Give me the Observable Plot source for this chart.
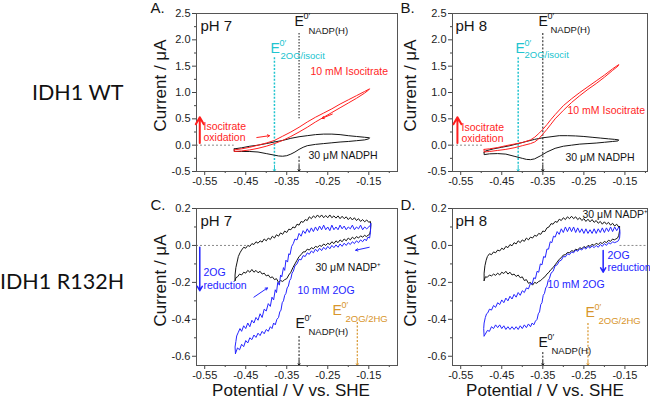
<!DOCTYPE html>
<html><head><meta charset="utf-8">
<script src="https://cdn.jsdelivr.net/npm/d3@7"></script>
<script src="https://cdn.jsdelivr.net/npm/@observablehq/plot@0.6"></script>
<style>
body{margin:0;background:#fff;}
#wrap{position:relative;width:650px;height:401px;overflow:hidden;background:#fff;}
.panel{position:absolute;}
.row{position:absolute;font-family:"Lato","Open Sans",sans-serif;font-size:21.5px;color:#111;white-space:nowrap;line-height:1;}
</style></head>
<body><div id="wrap">
<div class="row" style="left:32px;top:82px;">IDH1 WT</div>
<div class="row" style="left:0px;top:271px;">IDH1 R132H</div>
</div>
<script>
// ---------- tick values ----------
const xTicks = [-0.55, -0.45, -0.35, -0.25, -0.15];
const xMinor = [-0.5, -0.4, -0.3, -0.2, -0.1];
const yTicksWT = [-0.5, 0, 0.5, 1, 1.5, 2, 2.5];
const yMinorWT = [-0.25, 0.25, 0.75, 1.25, 1.75, 2.25];
const yTicksMut = [-0.6, -0.4, -0.2, 0, 0.2];
const yMinorMut = [-0.5, -0.3, -0.1, 0.1];

// ---------- formal potentials (V vs SHE) ----------
const E0_pH7 = {NADP: -0.32, isocit: -0.38, hg: -0.178};
const E0_pH8 = {NADP: -0.35, isocit: -0.41, hg: -0.24};

// ---------- A: IDH1 WT pH 7 ----------
const A_isocitrate = [[-0.478,-0.09],[-0.46,-0.07],[-0.44,-0.04],[-0.42,0.0],[-0.40,0.04],[-0.38,0.09],[-0.36,0.17],[-0.34,0.25],[-0.32,0.34],[-0.30,0.44],[-0.28,0.53],[-0.26,0.61],[-0.24,0.69],[-0.22,0.78],[-0.20,0.86],[-0.18,0.94],[-0.16,1.02],[-0.148,1.07],
 [-0.15,1.05],[-0.16,0.99],[-0.18,0.89],[-0.20,0.80],[-0.22,0.71],[-0.24,0.62],[-0.26,0.53],[-0.28,0.44],[-0.30,0.34],[-0.32,0.25],[-0.34,0.165],[-0.36,0.09],[-0.38,0.03],[-0.40,-0.02],[-0.42,-0.06],[-0.44,-0.09],[-0.46,-0.11],[-0.478,-0.12],[-0.478,-0.09]];
const A_NADPH = [[-0.478,-0.07],[-0.46,-0.05],[-0.44,-0.02],[-0.42,0.0],[-0.40,0.03],[-0.38,0.06],[-0.36,0.09],[-0.34,0.13],[-0.32,0.16],[-0.30,0.18],[-0.28,0.2],[-0.26,0.21],[-0.24,0.21],[-0.22,0.2],[-0.20,0.18],[-0.18,0.165],[-0.16,0.15],[-0.148,0.14],
 [-0.15,0.12],[-0.16,0.10],[-0.18,0.085],[-0.20,0.07],[-0.22,0.06],[-0.24,0.045],[-0.26,0.03],[-0.28,0.015],[-0.30,-0.01],[-0.31,-0.04],[-0.32,-0.08],[-0.33,-0.13],[-0.34,-0.17],[-0.35,-0.2],[-0.36,-0.21],[-0.37,-0.205],[-0.38,-0.19],[-0.40,-0.16],[-0.42,-0.13],[-0.44,-0.12],[-0.46,-0.12],[-0.478,-0.12],[-0.478,-0.07]];

// ---------- B: IDH1 WT pH 8 ----------
const B_isocitrate = [[-0.493,-0.08],[-0.48,-0.07],[-0.46,-0.045],[-0.44,-0.01],[-0.42,0.02],[-0.40,0.05],[-0.38,0.1],[-0.37,0.15],[-0.36,0.22],[-0.35,0.3],[-0.34,0.39],[-0.33,0.49],[-0.32,0.58],[-0.30,0.75],[-0.28,0.88],[-0.26,1.0],[-0.24,1.11],[-0.22,1.22],[-0.20,1.33],[-0.18,1.45],[-0.165,1.53],
 [-0.167,1.5],[-0.18,1.42],[-0.20,1.29],[-0.22,1.17],[-0.24,1.06],[-0.26,0.94],[-0.28,0.81],[-0.30,0.66],[-0.32,0.5],[-0.33,0.4],[-0.34,0.3],[-0.35,0.21],[-0.36,0.12],[-0.37,0.06],[-0.38,0.03],[-0.40,-0.01],[-0.42,-0.05],[-0.44,-0.08],[-0.46,-0.1],[-0.48,-0.12],[-0.493,-0.13],[-0.493,-0.08]];
const B_NADPH = [[-0.493,-0.14],[-0.49,-0.11],[-0.47,-0.07],[-0.45,-0.04],[-0.43,-0.01],[-0.41,0.03],[-0.39,0.07],[-0.37,0.11],[-0.35,0.14],[-0.33,0.16],[-0.31,0.18],[-0.29,0.18],[-0.27,0.175],[-0.25,0.165],[-0.23,0.15],[-0.21,0.135],[-0.19,0.12],[-0.175,0.11],[-0.165,0.10],
 [-0.167,0.08],[-0.18,0.07],[-0.20,0.055],[-0.22,0.04],[-0.24,0.03],[-0.26,0.02],[-0.28,0.0],[-0.30,-0.02],[-0.32,-0.06],[-0.34,-0.13],[-0.355,-0.2],[-0.37,-0.26],[-0.38,-0.275],[-0.39,-0.27],[-0.40,-0.25],[-0.42,-0.21],[-0.44,-0.17],[-0.46,-0.16],[-0.48,-0.165],[-0.493,-0.18],[-0.493,-0.14]];

// ---------- C: IDH1 R132H pH 7 ----------
const C_2OG = [[-0.475,-0.585],[-0.476,-0.55],[-0.474,-0.52],[-0.472,-0.49],[-0.468,-0.47],[-0.464,-0.45],[-0.46,-0.465],[-0.455,-0.435],[-0.45,-0.45],[-0.445,-0.42],[-0.44,-0.44],[-0.435,-0.405],[-0.43,-0.42],[-0.425,-0.39],[-0.42,-0.405],[-0.415,-0.37],[-0.41,-0.39],[-0.405,-0.345],[-0.40,-0.355],[-0.395,-0.315],[-0.39,-0.33],[-0.386,-0.28],[-0.382,-0.295],[-0.378,-0.24],[-0.375,-0.255],[-0.372,-0.2],[-0.368,-0.215],[-0.365,-0.16],[-0.362,-0.17],[-0.358,-0.12],[-0.355,-0.135],[-0.352,-0.08],[-0.348,-0.09],[-0.345,-0.045],[-0.342,-0.05],[-0.338,-0.005],[-0.334,0.01],[-0.33,0.035],[-0.325,0.03],[-0.32,0.065],[-0.315,0.05],[-0.31,0.08],[-0.305,0.065],[-0.30,0.09],[-0.295,0.07],[-0.29,0.095],[-0.285,0.075],[-0.28,0.1],[-0.275,0.08],[-0.27,0.105],[-0.265,0.085],[-0.26,0.11],[-0.255,0.085],[-0.25,0.1],[-0.245,0.08],[-0.24,0.11],[-0.235,0.085],[-0.23,0.1],[-0.225,0.085],[-0.22,0.11],[-0.215,0.09],[-0.21,0.105],[-0.205,0.085],[-0.20,0.1],[-0.195,0.09],[-0.19,0.11],[-0.185,0.085],[-0.18,0.1],[-0.175,0.09],[-0.17,0.11],[-0.165,0.085],[-0.16,0.1],[-0.155,0.09],[-0.15,0.1],[-0.146,0.11],
 [-0.145,0.12],[-0.146,0.07],[-0.148,0.04],[-0.152,0.045],[-0.156,0.025],[-0.16,0.035],[-0.165,0.02],[-0.17,0.03],[-0.175,0.015],[-0.18,0.025],[-0.185,0.01],[-0.19,0.02],[-0.195,0.005],[-0.20,0.015],[-0.205,0.0],[-0.21,0.012],[-0.215,-0.005],[-0.22,0.008],[-0.225,-0.01],[-0.23,0.003],[-0.235,-0.012],[-0.24,0.0],[-0.245,-0.018],[-0.25,-0.005],[-0.255,-0.022],[-0.26,-0.01],[-0.265,-0.028],[-0.27,-0.015],[-0.275,-0.033],[-0.28,-0.02],[-0.285,-0.04],[-0.29,-0.03],[-0.295,-0.048],[-0.30,-0.04],[-0.305,-0.06],[-0.31,-0.055],[-0.315,-0.078],[-0.32,-0.075],[-0.325,-0.1],[-0.33,-0.11],[-0.334,-0.14],[-0.337,-0.15],[-0.34,-0.18],[-0.343,-0.19],[-0.346,-0.22],[-0.349,-0.23],[-0.352,-0.26],[-0.355,-0.27],[-0.358,-0.3],[-0.361,-0.31],[-0.364,-0.35],[-0.367,-0.36],[-0.37,-0.39],[-0.374,-0.4],[-0.378,-0.43],[-0.382,-0.42],[-0.386,-0.45],[-0.39,-0.44],[-0.395,-0.465],[-0.40,-0.455],[-0.405,-0.478],[-0.41,-0.465],[-0.415,-0.488],[-0.42,-0.475],[-0.425,-0.498],[-0.43,-0.485],[-0.435,-0.51],[-0.44,-0.5],[-0.445,-0.528],[-0.45,-0.515],[-0.455,-0.548],[-0.46,-0.535],[-0.465,-0.565],[-0.47,-0.555],[-0.475,-0.585]];
const C_NADP = [[-0.476,-0.19],[-0.476,-0.16],[-0.474,-0.12],[-0.471,-0.09],[-0.468,-0.06],[-0.464,-0.04],[-0.46,-0.025],[-0.455,-0.01],[-0.45,-0.015],[-0.445,0.0],[-0.44,-0.005],[-0.435,0.01],[-0.43,0.005],[-0.425,0.02],[-0.42,0.012],[-0.415,0.025],[-0.41,0.018],[-0.405,0.035],[-0.40,0.025],[-0.395,0.04],[-0.39,0.032],[-0.385,0.05],[-0.38,0.04],[-0.375,0.058],[-0.37,0.05],[-0.365,0.068],[-0.36,0.06],[-0.355,0.078],[-0.35,0.07],[-0.345,0.088],[-0.34,0.085],[-0.335,0.1],[-0.33,0.095],[-0.325,0.115],[-0.32,0.11],[-0.315,0.13],[-0.31,0.125],[-0.305,0.14],[-0.30,0.135],[-0.295,0.155],[-0.29,0.145],[-0.285,0.16],[-0.28,0.15],[-0.275,0.165],[-0.27,0.152],[-0.265,0.165],[-0.26,0.15],[-0.255,0.162],[-0.25,0.15],[-0.245,0.165],[-0.24,0.15],[-0.235,0.16],[-0.23,0.148],[-0.225,0.16],[-0.22,0.145],[-0.215,0.158],[-0.21,0.145],[-0.205,0.155],[-0.20,0.14],[-0.195,0.152],[-0.19,0.138],[-0.185,0.15],[-0.18,0.135],[-0.175,0.145],[-0.17,0.13],[-0.165,0.14],[-0.16,0.128],[-0.155,0.138],[-0.15,0.125],[-0.146,0.13],[-0.145,0.11],
 [-0.146,0.08],[-0.148,0.06],[-0.152,0.055],[-0.156,0.048],[-0.16,0.055],[-0.165,0.045],[-0.17,0.052],[-0.175,0.04],[-0.18,0.048],[-0.185,0.035],[-0.19,0.045],[-0.195,0.03],[-0.20,0.04],[-0.205,0.025],[-0.21,0.035],[-0.215,0.02],[-0.22,0.03],[-0.225,0.015],[-0.23,0.025],[-0.235,0.01],[-0.24,0.02],[-0.245,0.005],[-0.25,0.012],[-0.255,0.0],[-0.26,0.008],[-0.265,-0.005],[-0.27,0.0],[-0.275,-0.01],[-0.28,-0.005],[-0.285,-0.018],[-0.29,-0.012],[-0.295,-0.025],[-0.30,-0.02],[-0.305,-0.035],[-0.31,-0.035],[-0.315,-0.05],[-0.32,-0.06],[-0.325,-0.08],[-0.33,-0.1],[-0.335,-0.12],[-0.34,-0.145],[-0.345,-0.16],[-0.35,-0.18],[-0.355,-0.185],[-0.36,-0.195],[-0.365,-0.19],[-0.37,-0.2],[-0.375,-0.18],[-0.38,-0.185],[-0.385,-0.17],[-0.39,-0.175],[-0.395,-0.16],[-0.40,-0.165],[-0.405,-0.15],[-0.41,-0.155],[-0.415,-0.14],[-0.42,-0.148],[-0.425,-0.135],[-0.43,-0.145],[-0.435,-0.13],[-0.44,-0.145],[-0.445,-0.135],[-0.45,-0.15],[-0.455,-0.145],[-0.46,-0.16],[-0.465,-0.155],[-0.47,-0.17],[-0.474,-0.175],[-0.476,-0.19]];

// ---------- D: IDH1 R132H pH 8 ----------
const D_2OG = [[-0.493,-0.49],[-0.494,-0.45],[-0.493,-0.42],[-0.49,-0.39],[-0.487,-0.37],[-0.484,-0.365],[-0.48,-0.345],[-0.475,-0.35],[-0.47,-0.325],[-0.465,-0.335],[-0.46,-0.31],[-0.455,-0.32],[-0.45,-0.295],[-0.445,-0.31],[-0.44,-0.285],[-0.435,-0.3],[-0.43,-0.275],[-0.425,-0.29],[-0.42,-0.265],[-0.415,-0.28],[-0.41,-0.255],[-0.405,-0.27],[-0.40,-0.245],[-0.395,-0.255],[-0.39,-0.23],[-0.385,-0.235],[-0.38,-0.205],[-0.376,-0.21],[-0.372,-0.175],[-0.368,-0.18],[-0.364,-0.14],[-0.36,-0.145],[-0.356,-0.1],[-0.352,-0.105],[-0.348,-0.06],[-0.344,-0.065],[-0.34,-0.02],[-0.336,-0.02],[-0.332,0.02],[-0.328,0.015],[-0.324,0.05],[-0.32,0.045],[-0.315,0.075],[-0.31,0.06],[-0.305,0.09],[-0.30,0.07],[-0.295,0.1],[-0.29,0.075],[-0.285,0.1],[-0.28,0.075],[-0.275,0.1],[-0.27,0.07],[-0.265,0.095],[-0.26,0.07],[-0.255,0.09],[-0.25,0.065],[-0.245,0.09],[-0.24,0.065],[-0.235,0.085],[-0.23,0.065],[-0.225,0.09],[-0.22,0.065],[-0.215,0.09],[-0.21,0.07],[-0.205,0.095],[-0.20,0.07],[-0.195,0.095],[-0.19,0.075],[-0.185,0.1],[-0.18,0.075],[-0.175,0.1],[-0.17,0.08],[-0.165,0.1],[-0.163,0.09],
 [-0.162,0.07],[-0.163,0.04],[-0.166,0.025],[-0.17,0.02],[-0.175,0.015],[-0.18,0.02],[-0.185,0.008],[-0.19,0.015],[-0.195,0.0],[-0.20,0.01],[-0.205,-0.005],[-0.21,0.005],[-0.215,-0.01],[-0.22,0.0],[-0.225,-0.012],[-0.23,-0.002],[-0.235,-0.015],[-0.24,-0.005],[-0.245,-0.02],[-0.25,-0.01],[-0.255,-0.025],[-0.26,-0.018],[-0.265,-0.032],[-0.27,-0.025],[-0.275,-0.04],[-0.28,-0.035],[-0.285,-0.05],[-0.29,-0.045],[-0.295,-0.062],[-0.30,-0.06],[-0.305,-0.08],[-0.31,-0.085],[-0.315,-0.105],[-0.32,-0.11],[-0.325,-0.14],[-0.33,-0.15],[-0.334,-0.18],[-0.337,-0.19],[-0.34,-0.22],[-0.343,-0.23],[-0.346,-0.26],[-0.349,-0.27],[-0.352,-0.31],[-0.355,-0.32],[-0.358,-0.36],[-0.361,-0.37],[-0.364,-0.4],[-0.368,-0.41],[-0.372,-0.43],[-0.376,-0.42],[-0.38,-0.44],[-0.385,-0.425],[-0.39,-0.445],[-0.395,-0.43],[-0.40,-0.45],[-0.405,-0.435],[-0.41,-0.455],[-0.415,-0.44],[-0.42,-0.455],[-0.425,-0.44],[-0.43,-0.455],[-0.435,-0.44],[-0.44,-0.455],[-0.445,-0.435],[-0.45,-0.45],[-0.455,-0.43],[-0.46,-0.445],[-0.465,-0.43],[-0.47,-0.45],[-0.475,-0.44],[-0.48,-0.465],[-0.485,-0.46],[-0.49,-0.48],[-0.493,-0.49]];
const D_NADP = [[-0.493,-0.19],[-0.493,-0.15],[-0.491,-0.11],[-0.488,-0.08],[-0.485,-0.06],[-0.48,-0.045],[-0.475,-0.05],[-0.47,-0.035],[-0.465,-0.04],[-0.46,-0.025],[-0.455,-0.03],[-0.45,-0.015],[-0.445,-0.022],[-0.44,-0.005],[-0.435,-0.012],[-0.43,0.005],[-0.425,-0.002],[-0.42,0.015],[-0.415,0.008],[-0.41,0.025],[-0.405,0.015],[-0.40,0.03],[-0.395,0.022],[-0.39,0.04],[-0.385,0.03],[-0.38,0.045],[-0.375,0.04],[-0.37,0.055],[-0.365,0.05],[-0.36,0.065],[-0.355,0.06],[-0.35,0.078],[-0.345,0.075],[-0.34,0.095],[-0.335,0.1],[-0.33,0.118],[-0.325,0.115],[-0.32,0.13],[-0.315,0.125],[-0.31,0.142],[-0.305,0.135],[-0.30,0.15],[-0.295,0.14],[-0.29,0.155],[-0.285,0.145],[-0.28,0.158],[-0.275,0.145],[-0.27,0.155],[-0.265,0.14],[-0.26,0.15],[-0.255,0.135],[-0.25,0.145],[-0.245,0.13],[-0.24,0.142],[-0.235,0.128],[-0.23,0.14],[-0.225,0.125],[-0.22,0.135],[-0.215,0.12],[-0.21,0.13],[-0.205,0.115],[-0.20,0.128],[-0.195,0.115],[-0.19,0.125],[-0.185,0.11],[-0.18,0.12],[-0.175,0.105],[-0.17,0.115],[-0.165,0.1],[-0.163,0.105],
 [-0.163,0.08],[-0.165,0.055],[-0.168,0.04],[-0.172,0.035],[-0.176,0.03],[-0.18,0.035],[-0.185,0.022],[-0.19,0.028],[-0.195,0.015],[-0.20,0.022],[-0.205,0.01],[-0.21,0.016],[-0.215,0.005],[-0.22,0.012],[-0.225,0.0],[-0.23,0.006],[-0.235,-0.005],[-0.24,0.0],[-0.245,-0.012],[-0.25,-0.006],[-0.255,-0.018],[-0.26,-0.012],[-0.265,-0.025],[-0.27,-0.02],[-0.275,-0.032],[-0.28,-0.028],[-0.285,-0.04],[-0.29,-0.038],[-0.295,-0.05],[-0.30,-0.052],[-0.305,-0.066],[-0.31,-0.075],[-0.315,-0.09],[-0.32,-0.105],[-0.325,-0.12],[-0.33,-0.13],[-0.335,-0.145],[-0.34,-0.155],[-0.345,-0.17],[-0.35,-0.178],[-0.355,-0.19],[-0.36,-0.195],[-0.365,-0.205],[-0.37,-0.2],[-0.375,-0.215],[-0.38,-0.2],[-0.385,-0.205],[-0.39,-0.185],[-0.395,-0.19],[-0.40,-0.17],[-0.405,-0.175],[-0.41,-0.16],[-0.415,-0.168],[-0.42,-0.155],[-0.425,-0.16],[-0.43,-0.145],[-0.435,-0.155],[-0.44,-0.14],[-0.445,-0.152],[-0.45,-0.145],[-0.455,-0.16],[-0.46,-0.15],[-0.465,-0.162],[-0.47,-0.155],[-0.475,-0.165],[-0.48,-0.16],[-0.485,-0.172],[-0.49,-0.17],[-0.493,-0.19]];

// ---------- styling ----------
const RED = "#ff1f1f", BLUE = "#2424ff", BLACK = "#151515", CYAN = "#20c4cf", ORANGE = "#d8952c", GRAY = "#8a8a8a";
const FONT = "'Liberation Sans', Arial, sans-serif";

const T = (s, dx, dy, o = {}) => Plot.text([s], {frameAnchor: "top-left", text: d => d, dx, dy, textAnchor: "start", lineAnchor: "middle", fontSize: 10.5, fill: BLACK, ...o});
const Elab = (dx, dy, supDx, subDx, subDy, sub, fill) => [
  T("E", dx, dy, {fontSize: 14, fill}),
  T("0\u2032", dx + supDx, dy - 5, {fontSize: 9, fill}),
  T(sub, dx + subDx, dy + subDy, {fontSize: 9.5, fill})
];
const vline = (x, yTop, yBot, head, color, w = 1.2) => [
  Plot.ruleX([x], {y1: () => yTop, y2: () => yBot + head, stroke: color, strokeWidth: w, strokeDasharray: "2,1.6"}),
  Plot.arrow([x], {x1: d => d, x2: d => d, y1: () => yBot + head, y2: () => yBot, stroke: color, strokeWidth: 1, headLength: 4})
];
const arr = (x1, y1, x2, y2, color, w, hl) => Plot.arrow([0], {x1: () => x1, y1: () => y1, x2: () => x2, y2: () => y2, stroke: color, strokeWidth: w, headLength: hl});
const curve = (data, color) => Plot.line(data, {x: d => d[0], y: d => d[1], stroke: color, strokeWidth: 1});

function axes(yTicks, yMinor) {
  return [
    Plot.axisX(xTicks, {tickSize: 4, tickPadding: 2, tickFormat: d => d.toFixed(2), stroke: "#444", fill: "#222", fontSize: 11, label: null}),
    Plot.axisX(xMinor, {tickSize: 2, tickFormat: () => "", stroke: "#444", label: null}),
    Plot.axisY(yTicks, {tickSize: 4, tickPadding: 2, tickFormat: d => d.toFixed(1), stroke: "#444", fill: "#222", fontSize: 11, label: null}),
    Plot.axisY(yMinor, {tickSize: 2, tickFormat: () => "", stroke: "#444", label: null}),
    Plot.frame({stroke: "#555", strokeWidth: 1})
  ];
}

function make(opts, marks, pos) {
  const svg = Plot.plot({
    width: 250, height: opts.height,
    marginLeft: opts.ml, marginRight: 3, marginTop: 13, marginBottom: opts.mb,
    x: {domain: opts.xd}, y: {domain: opts.yd},
    style: {fontFamily: FONT, fontSize: "11px", background: "transparent", overflow: "visible", color: "#222"},
    marks
  });
  svg.classList.add("panel");
  svg.style.left = pos[0] + "px";
  svg.style.top = pos[1] + "px";
  document.getElementById("wrap").appendChild(svg);
}

const ylab = (dx, dy) => Plot.text(["Current / \u03bcA"], {frameAnchor: "left", text: d => d, rotate: -90, textAnchor: "middle", lineAnchor: "middle", dx, dy, fontSize: 17, fill: BLACK});
const xlab = (dx) => Plot.text(["Potential / V vs. SHE"], {frameAnchor: "bottom", text: d => d, textAnchor: "middle", dx, dy: 25, lineAnchor: "middle", fontSize: 17, fill: BLACK});

// ---------- Panel A ----------
make({height: 200, ml: 46, mb: 29, xd: [-0.57, -0.08], yd: [-0.5, 2.5]}, [
  Plot.ruleY([0], {x1: () => -0.57, x2: () => -0.478, stroke: GRAY, strokeDasharray: "2,2"}),
  ...vline(E0_pH7.isocit, 1.66, -0.5, 0.12, CYAN, 1.5),
  Plot.ruleX([E0_pH7.NADP], {y1: () => 2.12, y2: () => 0.5, stroke: BLACK, strokeWidth: 1, strokeDasharray: "1.5,1.5"}),
  ...vline(E0_pH7.NADP, -0.22, -0.5, 0.12, BLACK, 1),
  curve(A_NADPH, BLACK),
  curve(A_isocitrate, RED),
  ...axes(yTicksWT, yMinorWT),
  ylab(-36, -7),
  T("A.", -46, -5.5, {fontSize: 15}),
  T("pH 7", 4, 13, {fontSize: 15}),
  ...Elab(98, 8, 9, 14, 9, "NADP(H)", BLACK),
  ...Elab(74, 35, 9, 10, 7, "2OG/isocit", CYAN),
  T("10 mM Isocitrate", 114, 58, {fill: RED}),
  T("30 \u03bcM NADPH", 112, 142),
  T("Isocitrate", 7, 113, {fill: RED}),
  T("oxidation", 7, 124, {fill: RED}),
  arr(-0.562, 0.04, -0.562, 0.53, RED, 2, 6),
  arr(-0.423, 0.145, -0.392, 0.18, RED, 1, 3.5),
  arr(-0.239, 0.59, -0.264, 0.51, RED, 1, 3.5)
], [150, 0]);

// ---------- Panel B ----------
make({height: 200, ml: 52, mb: 29, xd: [-0.57, -0.095], yd: [-0.5, 2.5]}, [
  Plot.ruleY([0], {x1: () => -0.57, x2: () => -0.494, stroke: GRAY, strokeDasharray: "2,2"}),
  ...vline(E0_pH8.isocit, 1.66, -0.5, 0.12, CYAN, 1.5),
  ...vline(E0_pH8.NADP, 2.12, -0.5, 0.12, BLACK, 1),
  curve(B_NADPH, BLACK),
  curve(B_isocitrate, RED),
  ...axes(yTicksWT, yMinorWT),
  ylab(-42, -7),
  T("B.", -52, -5.5, {fontSize: 15}),
  T("pH 8", 3, 13, {fontSize: 15}),
  ...Elab(86, 8, 9, 12, 8, "NADP(H)", BLACK),
  ...Elab(63, 35, 9, 9, 6, "2OG/isocit", CYAN),
  T("10 mM Isocitrate", 115, 97, {fill: RED}),
  T("30 \u03bcM NADPH", 113, 144),
  T("Isocitrate", 9, 114, {fill: RED}),
  T("oxidation", 9, 125, {fill: RED}),
  arr(-0.558, 0.04, -0.558, 0.53, RED, 2, 6)
], [400, 0]);

// ---------- Panel C ----------
make({height: 206, ml: 46, mb: 36, xd: [-0.57, -0.08], yd: [-0.65, 0.2]}, [
  Plot.ruleY([0], {x1: () => -0.57, x2: () => -0.447, stroke: GRAY, strokeDasharray: "2,2"}),
  ...vline(E0_pH7.NADP, -0.493, -0.65, 0.032, BLACK, 1),
  ...vline(E0_pH7.hg, -0.417, -0.65, 0.032, ORANGE, 1.2),
  curve(C_NADP, BLACK),
  curve(C_2OG, BLUE),
  ...axes(yTicksMut, yMinorMut),
  ylab(-36, -6.5),
  xlab(-6),
  T("C.", -46, -3, {fontSize: 15}),
  T("pH 7", 4, 13, {fontSize: 15}),
  T("2OG", 7, 64, {fill: BLUE}),
  T("reduction", 7, 77, {fill: BLUE}),
  T("30 \u03bcM NADP\u207a", 119, 59),
  T("10 mM 2OG", 101, 82, {fill: BLUE}),
  ...Elab(99, 115, 9, 13, 8, "NADP(H)", BLACK),
  ...Elab(136, 102, 9, 13, 8, "2OG/2HG", ORANGE),
  arr(-0.562, -0.01, -0.562, -0.245, BLUE, 1.5, 5),
  arr(-0.43, -0.28, -0.397, -0.23, BLUE, 1, 3.5),
  arr(-0.149, -0.01, -0.182, -0.026, BLUE, 1, 3.5)
], [150, 195]);

// ---------- Panel D ----------
make({height: 206, ml: 52, mb: 36, xd: [-0.57, -0.095], yd: [-0.65, 0.2]}, [
  Plot.ruleY([0], {x1: () => -0.162, x2: () => -0.095, stroke: GRAY, strokeDasharray: "2,2"}),
  ...vline(E0_pH8.NADP, -0.58, -0.65, 0.032, BLACK, 1),
  ...vline(E0_pH8.hg, -0.423, -0.65, 0.032, ORANGE, 1.2),
  curve(D_NADP, BLACK),
  curve(D_2OG, BLUE),
  ...axes(yTicksMut, yMinorMut),
  ylab(-42, -6.5),
  xlab(-5),
  T("D.", -52, -3, {fontSize: 15}),
  T("pH 8", 3, 13, {fontSize: 15}),
  T("30 \u03bcM NADP\u207a", 130, 6),
  T("2OG", 155, 47, {fill: BLUE}),
  T("reduction", 155, 59, {fill: BLUE}),
  T("10 mM 2OG", 95, 76, {fill: BLUE}),
  ...Elab(86, 134, 9, 13, 8, "NADP(H)", BLACK),
  ...Elab(133, 104, 9, 13, 8, "2OG/2HG", ORANGE),
  arr(-0.203, -0.027, -0.203, -0.145, BLUE, 1.5, 5)
], [400, 195]);
</script>
</body></html>
